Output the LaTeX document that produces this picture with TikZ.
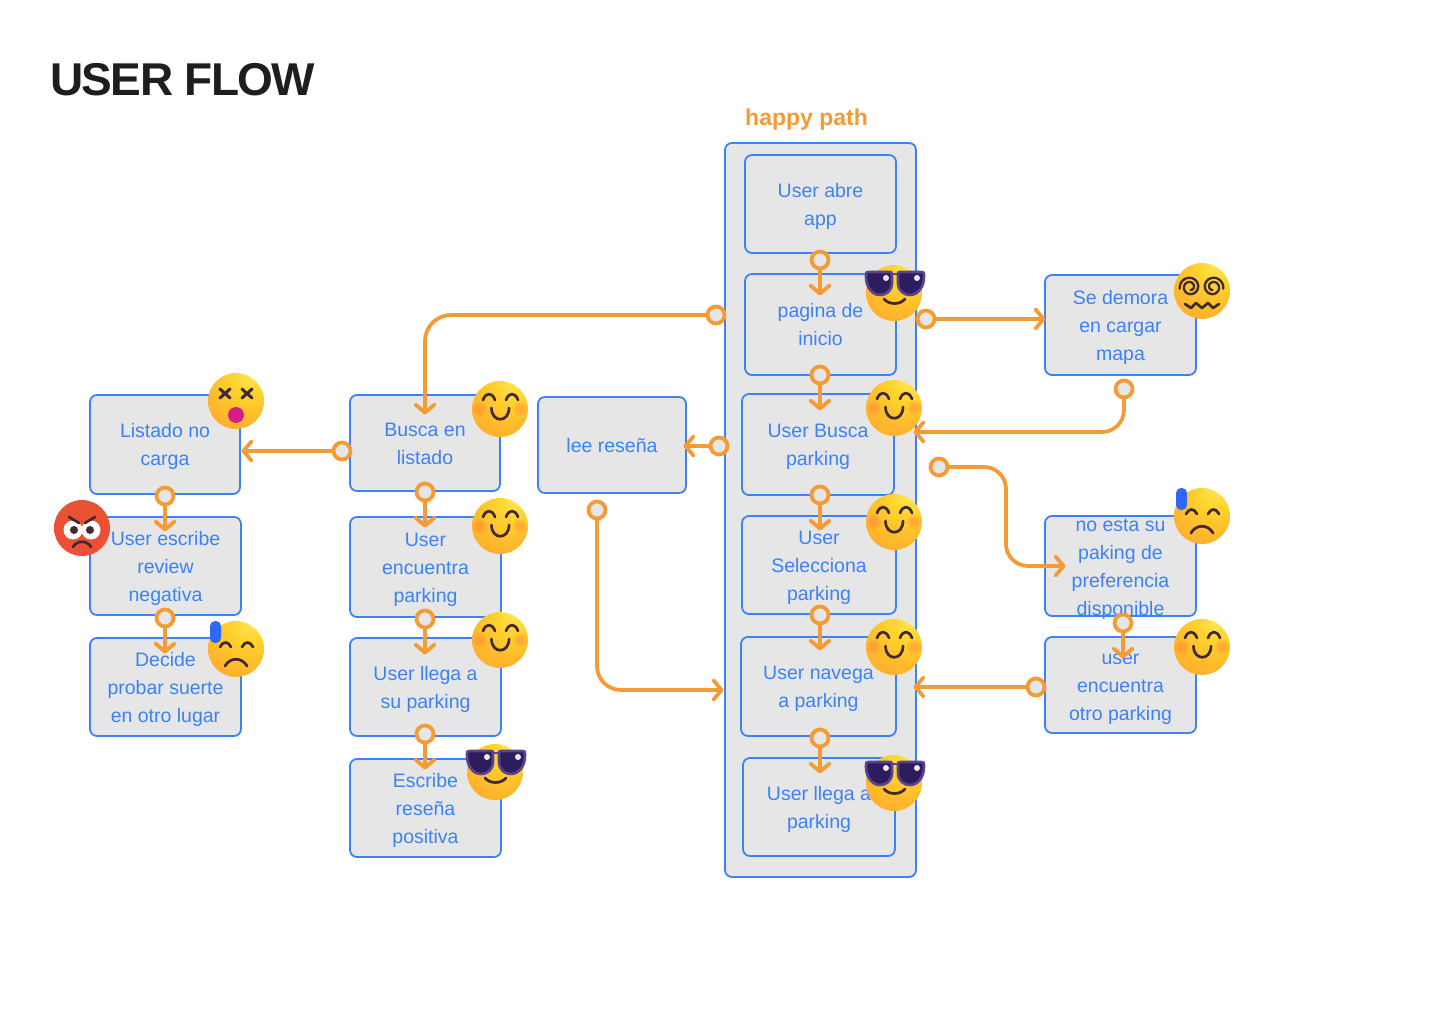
\documentclass[tikz,border=0pt]{standalone}
\usepackage{fontspec}
\setmainfont{Liberation Sans}
\usetikzlibrary{arrows.meta}
\definecolor{boxblue}{HTML}{3B82F6}
\definecolor{boxgray}{HTML}{E6E6E6}
\definecolor{flowor}{HTML}{F59B35}
\definecolor{titledark}{HTML}{1E1E1E}
\definecolor{facedark}{HTML}{402A32}
\definecolor{glassframe}{HTML}{5A4390}
\definecolor{glasslens}{HTML}{2E1D5C}
\newcommand{\steptext}[1]{\begin{tabular}{@{}c@{}}\rule{0pt}{23pt}#1\end{tabular}}
\pgfdeclareradialshading{faceball}{\pgfpoint{14bp}{26bp}}{rgb(0bp)=(1,.91,.35);rgb(15bp)=(1,.83,.18);rgb(35bp)=(1,.72,.17);rgb(55bp)=(.985,.63,.2);rgb(65bp)=(.975,.56,.25);rgb(72bp)=(.965,.49,.36);rgb(80bp)=(.94,.38,.6);rgb(100bp)=(.94,.38,.6)}
\pgfdeclareradialshading{angryball}{\pgfpoint{0bp}{30bp}}{rgb(0bp)=(.9,.33,.18);rgb(35bp)=(.93,.31,.21);rgb(58bp)=(.98,.26,.33);rgb(72bp)=(.98,.2,.45);rgb(100bp)=(.9,.2,.6)}
\tikzset{
    stepbox/.style={draw=boxblue, fill=boxgray, line width=1.8pt, rounded corners=7pt, text=boxblue, font=\fontsize{19.5}{28}\selectfont, inner sep=0pt},
    flowdot/.style={circle, draw=flowor, fill=boxgray, line width=3.8pt, minimum size=17pt, inner sep=0pt},
    flowline/.style={draw=flowor, line width=3.8pt, line cap=round, shorten >=-1.5pt, -{Straight Barb[length=8pt, width=19pt, line width=3.8pt, round]}},
    facemark/.style={draw=facedark, line width=2.7pt, line cap=round, line join=round},
    pics/smileface/.style={code={
        \shade[shading=faceball] (0,0) circle (28);
        \fill[red!60!pink, opacity=.12] (-20,0) circle (7);
        \fill[red!60!pink, opacity=.12] (-20,0) circle (4.5);
        \fill[red!60!pink, opacity=.12] (20,0) circle (7);
        \fill[red!60!pink, opacity=.12] (20,0) circle (4.5);
        \draw[facemark] (-17,-9) .. controls (-14,-17) and (-8,-17) .. (-5,-9);
        \draw[facemark] (6,-9) .. controls (9,-17) and (15,-17) .. (18,-9);
        \draw[facemark] (-8.5,-1) .. controls (-8.5,14) and (9,14) .. (9,-1);
    }},
    pics/sadface/.style={code={
        \shade[shading=faceball] (0,0) circle (28);
        \draw[facemark] (-16,-2) .. controls (-13,-8) and (-8,-8) .. (-5,-2);
        \draw[facemark] (6,-2) .. controls (9,-8) and (14,-8) .. (17,-2);
        \draw[facemark] (-11,17) .. controls (-6,8) and (6,8) .. (11,17);
        \fill[boxblue!80!blue, rounded corners=5pt] (-26,-28) rectangle (-15,-6);
    }},
    pics/coolface/.style={code={
        \shade[shading=faceball] (0,0) circle (28);
        \draw[facemark] (-10,6) .. controls (-5,12) and (6,12) .. (11,6);
        \draw[draw=glassframe, line width=2.6pt] (-4,-19) -- (6,-19);
        \draw[draw=glassframe, fill=glasslens, line width=2.6pt] (-28,-16) .. controls (-28,-21) .. (-24,-21) -- (-6,-21) .. controls (-2,-21) .. (-2,-17) -- (-2,-10) .. controls (-2,-2) and (-8,2) .. (-14,2) .. controls (-22,2) and (-28,-6) .. (-28,-16) -- cycle;
        \draw[draw=glassframe, fill=glasslens, line width=2.6pt] (30,-16) .. controls (30,-21) .. (26,-21) -- (8,-21) .. controls (4,-21) .. (4,-17) -- (4,-10) .. controls (4,-2) and (10,2) .. (16,2) .. controls (24,2) and (30,-6) .. (30,-16) -- cycle;
        \fill[white!85!gray] (-8,-15) circle (3);
        \fill[white!85!gray] (23,-15) circle (3);
    }},
    pics/dizzyface/.style={code={
        \shade[shading=faceball] (0,0) circle (28);
        \draw[facemark, line width=2.3pt] plot[smooth, domain=170:800, samples=40] ({-12+(1+\x/85)*cos(-\x+250)}, {-4+(1+\x/85)*sin(-\x+250)});
        \draw[facemark, line width=2.3pt] plot[smooth, domain=170:800, samples=40] ({11-(1+\x/85)*cos(-\x+250)}, {-4+(1+\x/85)*sin(-\x+250)});
        \draw[facemark] (-17,13) -- (-11,17) -- (-6,12) -- (0,17) -- (6,12) -- (11,17) -- (17,13);
    }},
    pics/deadface/.style={code={
        \shade[shading=faceball] (0,0) circle (28);
        \draw[facemark, line width=3pt] (-16,-12) -- (-6,-3) (-16,-3) -- (-6,-12);
        \draw[facemark, line width=3pt] (6,-12) -- (16,-3) (6,-3) -- (16,-12);
        \fill[magenta!75!violet] (0,14) circle (8);
    }},
    pics/angryface/.style={code={
        \shade[shading=angryball] (0,0) circle (28);
        \fill[white] (-9,2) circle (9.5);
        \fill[white] (9,2) circle (9.5);
        \fill[facedark] (-8,2) circle (4);
        \fill[facedark] (8,2) circle (4);
        \draw[facemark] (-13,-11) -- (-3,-5);
        \draw[facemark] (13,-11) -- (3,-5);
        \draw[facemark] (-9,19) .. controls (-5,12) and (5,12) .. (9,19);
    }},
}
\begin{document}
\begin{tikzpicture}[x=1pt, y=-1pt]
    \useasboundingbox (0,0) rectangle (1440,1024);
    \node[font=\fontsize{46}{48}\addfontfeature{LetterSpace=-3.4}\bfseries, text=titledark, anchor=west, inner sep=0pt] (title) at (50,80) {USER FLOW};
    \node[font=\fontsize{23}{28}\selectfont\bfseries, text=flowor, anchor=west, inner sep=0pt] (happy) at (745,119.5) {happy path};
    % happy path column
    \node[stepbox, minimum width=191pt, minimum height=734pt] (column) at (820.5,510) {};
    \node[stepbox, minimum width=151pt, minimum height=98pt] (abre) at (820.5,204) {\steptext{User abre\\app}};
    \node[stepbox, minimum width=151pt, minimum height=101pt] (inicio) at (820.5,324.5) {\steptext{pagina de\\inicio}};
    \node[stepbox, minimum width=152pt, minimum height=101pt] (busca) at (818,444.5) {\steptext{User Busca\\parking}};
    \node[stepbox, minimum width=154pt, minimum height=98pt] (selecciona) at (819,565) {\steptext{User\\Selecciona\\parking}};
    \node[stepbox, minimum width=155pt, minimum height=99pt] (navega) at (818.5,686.5) {\steptext{User navega\\a parking}};
    \node[stepbox, minimum width=152pt, minimum height=98pt] (llega) at (819,807) {\steptext{User llega a\\parking}};
    % right side
    \node[stepbox, minimum width=151pt, minimum height=100pt] (demora) at (1120.5,325) {\steptext{Se demora\\en cargar\\mapa}};
    \node[stepbox, minimum width=151pt, minimum height=100pt, inner ysep=-10pt] (noesta) at (1120.5,566) {\steptext{no esta su\\paking de\\preferencia\\disponible}};
    \node[stepbox, minimum width=151pt, minimum height=96pt] (otro) at (1120.5,685) {\steptext{user\\encuentra\\otro parking}};
    % middle
    \node[stepbox, minimum width=148pt, minimum height=96pt] (resena) at (612,445) {\steptext{lee reseña}};
    \node[stepbox, minimum width=150pt, minimum height=96pt] (listado) at (425,443) {\steptext{Busca en\\listado}};
    \node[stepbox, minimum width=151pt, minimum height=100pt] (encuentra) at (425.5,567) {\steptext{User\\encuentra\\parking}};
    \node[stepbox, minimum width=151pt, minimum height=98pt] (suparking) at (425.5,687) {\steptext{User llega a\\su parking}};
    \node[stepbox, minimum width=151pt, minimum height=98pt] (positiva) at (425.5,808) {\steptext{Escribe\\reseña\\positiva}};
    % left side
    \node[stepbox, minimum width=150pt, minimum height=99pt] (nocarga) at (165,444.5) {\steptext{Listado no\\carga}};
    \node[stepbox, minimum width=151pt, minimum height=98pt] (negativa) at (165.5,566) {\steptext{User escribe\\review\\negativa}};
    \node[stepbox, minimum width=151pt, minimum height=98pt] (decide) at (165.5,687) {\steptext{Decide\\probar suerte\\en otro lugar}};
    % connector ends
    \node[flowdot] (d1) at (820,260) {};
    \coordinate (e1) at (820,294);
    \node[flowdot] (d2) at (820,375) {};
    \coordinate (e2) at (820,409);
    \node[flowdot] (d3) at (820,495) {};
    \coordinate (e3) at (820,529);
    \node[flowdot] (d4) at (820,615) {};
    \coordinate (e4) at (820,649);
    \node[flowdot] (d5) at (820,738) {};
    \coordinate (e5) at (820,772);
    \node[flowdot] (d6) at (926,319) {};
    \coordinate (e6) at (1044,319);
    \node[flowdot] (d7) at (1124,389) {};
    \coordinate (e7) at (915,432);
    \node[flowdot] (d8) at (939,467) {};
    \coordinate (e8) at (1064,566);
    \node[flowdot] (d9) at (1123,623) {};
    \coordinate (e9) at (1123,657);
    \node[flowdot] (d10) at (1036,687) {};
    \coordinate (e10) at (915,687);
    \node[flowdot] (d11) at (719,446) {};
    \coordinate (e11) at (685,446);
    \node[flowdot] (d12) at (597,510) {};
    \coordinate (e12) at (722,690);
    \node[flowdot] (d13) at (716,315) {};
    \coordinate (e13) at (425,413);
    \node[flowdot] (d14) at (342,451) {};
    \coordinate (e14) at (243,451);
    \node[flowdot] (d15) at (425,492) {};
    \coordinate (e15) at (425,526);
    \node[flowdot] (d16) at (425,619) {};
    \coordinate (e16) at (425,653);
    \node[flowdot] (d17) at (425,734) {};
    \coordinate (e17) at (425,768);
    \node[flowdot] (d18) at (165,496) {};
    \coordinate (e18) at (165,530);
    \node[flowdot] (d19) at (165,618) {};
    \coordinate (e19) at (165,652);
    % connectors
    \path[flowline] (d1) -- (e1);
    \path[flowline] (d2) -- (e2);
    \path[flowline] (d3) -- (e3);
    \path[flowline] (d4) -- (e4);
    \path[flowline] (d5) -- (e5);
    \path[flowline] (d6) -- (e6);
    \path[flowline, rounded corners=22pt] (d7) |- (e7);
    \path[flowline, rounded corners=22pt] (d8) -- (1006,467) -- (1006,566) -- (e8);
    \path[flowline] (d9) -- (e9);
    \path[flowline] (d10) -- (e10);
    \path[flowline] (d11) -- (e11);
    \path[flowline, rounded corners=24pt] (d12) |- (e12);
    \path[flowline, rounded corners=26pt] (d13) -| (e13);
    \path[flowline] (d14) -- (e14);
    \path[flowline] (d15) -- (e15);
    \path[flowline] (d16) -- (e16);
    \path[flowline] (d17) -- (e17);
    \path[flowline] (d18) -- (e18);
    \path[flowline] (d19) -- (e19);
    % faces
    \pic at (894,293) {coolface};
    \pic at (894,408) {smileface};
    \pic at (894,522) {smileface};
    \pic at (894,647) {smileface};
    \pic at (894,783) {coolface};
    \pic at (1202,291) {dizzyface};
    \pic at (1202,516) {sadface};
    \pic at (1202,647) {smileface};
    \pic at (500,409) {smileface};
    \pic at (500,526) {smileface};
    \pic at (500,640) {smileface};
    \pic at (495,772) {coolface};
    \pic at (236,401) {deadface};
    \pic at (82,528) {angryface};
    \pic at (236,649) {sadface};
\end{tikzpicture}
\end{document}
